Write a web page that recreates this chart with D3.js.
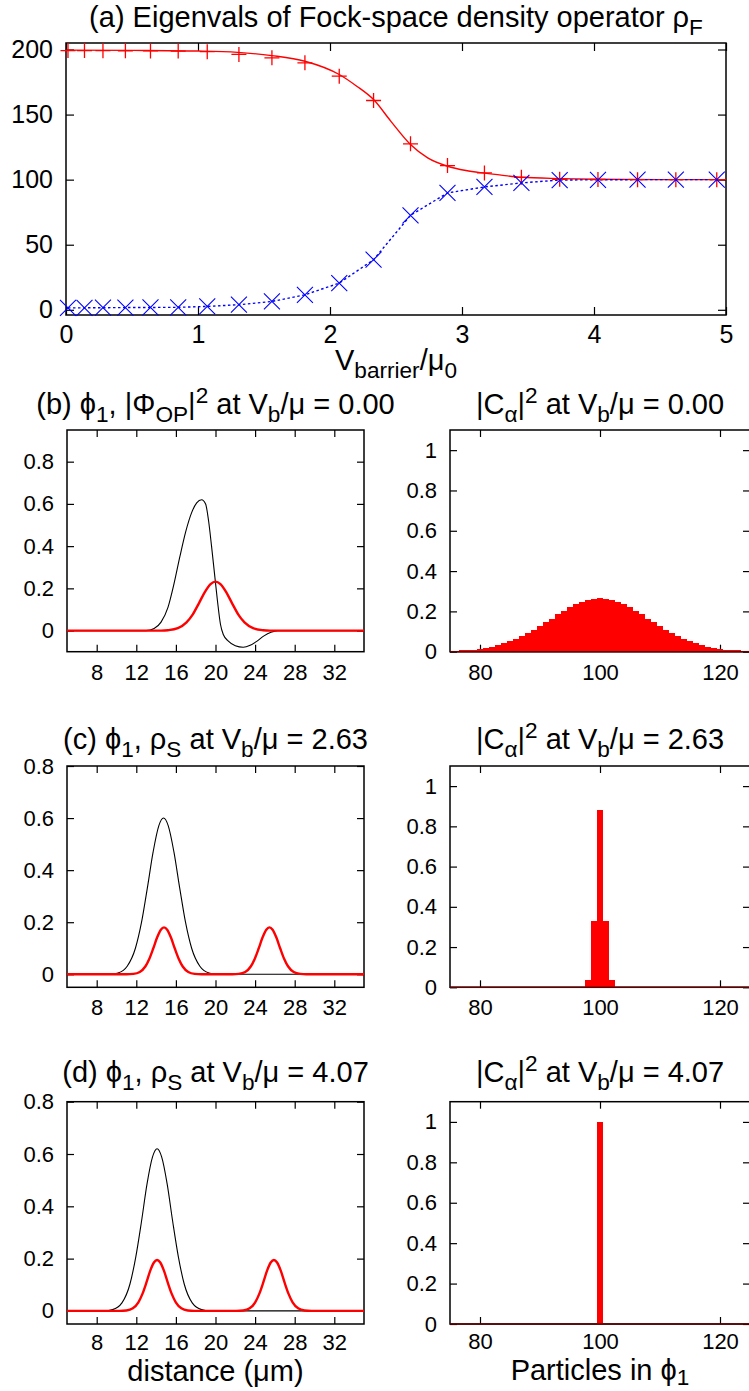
<!DOCTYPE html>
<html><head><meta charset="utf-8">
<script src="https://cdn.jsdelivr.net/npm/d3@7"></script>
<style>
body{margin:0;background:#fff;}
svg{display:block;}
text{font-family:"Liberation Sans","DejaVu Sans",Arial,sans-serif;fill:#000;}
</style>
</head><body>
<svg id="chart" width="749" height="1391"></svg>
<script>
// ---------- Panel (a) data ----------
const vBarrier = [0.015, 0.14, 0.28, 0.45, 0.64, 0.85, 1.07, 1.31, 1.56, 1.81, 2.07, 2.33, 2.61, 2.89, 3.17, 3.45, 3.74, 4.03, 4.33, 4.62, 4.93];
const eigLarge = [199.2, 199.2, 199.1, 199.0, 198.9, 198.8, 198.3, 196.2, 193.6, 189.8, 179.5, 160.8, 127.5, 110.8, 105.2, 101.8, 100.3, 100.1, 100, 100, 100];
const eigSmall = [1.5, 1.5, 1.6, 1.7, 1.8, 1.9, 2.6, 3.9, 6.4, 11.5, 20.5, 38.5, 72.6, 89.8, 94.4, 97.5, 99.7, 99.9, 100, 100, 100];
const fitV   = [0, 0.5, 1.0, 1.3, 1.56, 1.81, 2.07, 2.2, 2.33, 2.46, 2.61, 2.74, 2.89, 3.03, 3.17, 3.31, 3.45, 3.74, 4.0, 4.5, 5.0];
const fitEig = [199.5, 199.3, 198.8, 197.8, 195.3, 191, 180.8, 172, 161.5, 145, 127, 116.7, 110.3, 107, 105, 103.3, 101.8, 100.8, 100.3, 100, 100];
const topXTicks = [0, 1, 2, 3, 4, 5];
const topYTicks = [0, 50, 100, 150, 200];

// ---------- Left panels (distance) ----------
const distTicks = [8, 12, 16, 20, 24, 28, 32];
const densTicks = [0, 0.2, 0.4, 0.6, 0.8];
const phiB = [[5,0],[13.0,0],[13.8,0.01],[14.5,0.04],[15.2,0.11],[15.8,0.22],[16.4,0.35],[17.0,0.47],[17.6,0.56],[18.1,0.605],[18.6,0.62],[19.0,0.6],[19.3,0.52],[19.6,0.4],[19.9,0.27],[20.2,0.14],[20.5,0.03],[20.8,-0.02],[21.3,-0.05],[22.0,-0.072],[22.8,-0.079],[23.5,-0.07],[24.2,-0.05],[24.9,-0.025],[25.6,-0.008],[26.3,0],[35,0]];
const rhoB = [[5,0],[14.5,0],[15.2,0.0019],[16.2,0.0116],[17.07,0.039],[17.71,0.077],[18.31,0.128],[18.92,0.182],[19.5,0.22],[20,0.232],[20.5,0.22],[21.08,0.182],[21.69,0.128],[22.29,0.077],[22.93,0.039],[23.8,0.0116],[24.8,0.0019],[25.5,0],[35,0]];
const phiC = [[5,0],[9.4,0],[10.15,0.005],[11.08,0.031],[11.91,0.1],[12.53,0.2],[13.11,0.33],[13.7,0.47],[14.27,0.57],[14.75,0.6],[15.23,0.57],[15.8,0.47],[16.39,0.33],[16.97,0.2],[17.59,0.1],[18.42,0.031],[19.35,0.005],[20.1,0],[35,0]];
const rhoC = [[5,0],[11.0,0],[11.7,0.0015],[12.35,0.009],[12.91,0.03],[13.32,0.06],[13.71,0.099],[14.1,0.141],[14.48,0.171],[14.8,0.18],[15.12,0.171],[15.5,0.141],[15.89,0.099],[16.28,0.06],[16.69,0.03],[17.25,0.009],[17.9,0.0015],[18.6,0],[21.7,0],[22.35,0.0015],[23.0,0.009],[23.56,0.03],[23.97,0.06],[24.36,0.099],[24.75,0.141],[25.13,0.171],[25.45,0.18],[25.77,0.171],[26.15,0.141],[26.54,0.099],[26.93,0.06],[27.34,0.03],[27.9,0.009],[28.55,0.0015],[29.2,0],[35,0]];
const phiD = [[5,0],[8.8,0],[9.6,0.005],[10.55,0.031],[11.36,0.103],[11.95,0.207],[12.52,0.341],[13.08,0.485],[13.64,0.589],[14.1,0.62],[14.56,0.589],[15.12,0.485],[15.68,0.341],[16.25,0.207],[16.84,0.103],[17.65,0.031],[18.6,0.005],[19.4,0],[35,0]];
const rhoD = [[5,0],[10.3,0],[11.0,0.0016],[11.65,0.0098],[12.21,0.0326],[12.62,0.065],[13.01,0.107],[13.4,0.153],[13.78,0.185],[14.1,0.195],[14.42,0.185],[14.8,0.153],[15.19,0.107],[15.58,0.065],[15.99,0.0326],[16.55,0.0098],[17.2,0.0016],[17.9,0],[22.1,0],[22.8,0.0016],[23.45,0.0098],[24.01,0.0326],[24.42,0.065],[24.81,0.107],[25.2,0.153],[25.58,0.185],[25.9,0.195],[26.22,0.185],[26.6,0.153],[26.99,0.107],[27.38,0.065],[27.79,0.0326],[28.35,0.0098],[29.0,0.0016],[29.7,0],[35,0]];

// ---------- Right panels (particles) ----------
const partTicks = [80, 100, 120];
const probTicks = [0, 0.2, 0.4, 0.6, 0.8, 1];
const histBN = [75,76,77,78,79,80,81,82,83,84,85,86,87,88,89,90,91,92,93,94,95,96,97,98,99,100,101,102,103,104,105,106,107,108,109,110,111,112,113,114,115,116,117,118,119,120,121,122,123,124,125];
const histBV = [0.003,0.004,0.006,0.008,0.010,0.014,0.019,0.025,0.032,0.041,0.051,0.063,0.076,0.092,0.108,0.127,0.146,0.164,0.185,0.203,0.220,0.236,0.248,0.257,0.262,0.264,0.262,0.257,0.248,0.236,0.220,0.203,0.185,0.164,0.146,0.127,0.108,0.092,0.076,0.063,0.051,0.041,0.032,0.025,0.019,0.014,0.010,0.008,0.006,0.004,0.003];
const histCN = [98, 99, 100, 101, 102];
const histCV = [0.035, 0.33, 0.88, 0.33, 0.035];
const histDN = [100];
const histDV = [1.0];

// ---------- drawing ----------
const svg = d3.select("#chart");
const FONT = '"Liberation Sans","DejaVu Sans",Arial,sans-serif';
const TITLE = 29;
let clipCount = 0;

function richText(x, y, parts, size, subShift) {
  const t = svg.append("text").attr("x", x).attr("y", y)
    .attr("text-anchor", "middle").attr("font-size", size).attr("font-family", FONT);
  let cur = 0;
  parts.forEach(p => {
    const s = p[0], mode = p[1] || "n";
    let target = 0, fs = size;
    if (mode === "sub") { target = subShift != null ? subShift : size * 0.27; fs = size * 0.78; }
    if (mode === "sup") { target = -size * 0.38; fs = size * 0.78; }
    t.append("tspan").attr("dy", target - cur).attr("font-size", fs).text(s);
    cur = target;
  });
  return t;
}

function panel(o) {
  const x = d3.scaleLinear().domain(o.xd).range([o.x0, o.x1]);
  const y = d3.scaleLinear().domain(o.yd).range([o.y1, o.y0]);
  const g = svg.append("g");
  const tl = o.tl;
  const fmt = d => String(d);
  const ax = [
    g.append("g").attr("transform", `translate(0,${o.y1})`)
      .call(d3.axisBottom(x).tickValues(o.xt).tickSize(-tl).tickPadding(o.xpad || 12.5).tickFormat(fmt)),
    g.append("g").attr("transform", `translate(0,${o.y0})`)
      .call(d3.axisTop(x).tickValues(o.xt).tickSize(-tl).tickFormat("")),
    g.append("g").attr("transform", `translate(${o.x0},0)`)
      .call(d3.axisLeft(y).tickValues(o.yt).tickSize(-tl).tickPadding(13).tickFormat(fmt)),
    g.append("g").attr("transform", `translate(${o.x1},0)`)
      .call(d3.axisRight(y).tickValues(o.yt).tickSize(-tl).tickFormat(""))
  ];
  ax.forEach(a => {
    a.select(".domain").remove();
    a.selectAll(".tick line").attr("stroke", "#000").attr("stroke-width", 1.2);
    a.selectAll("text").attr("font-size", o.fs || 22).attr("font-family", FONT).attr("fill", "#000");
    a.attr("font-family", null).attr("font-size", null);
  });
  g.append("rect").attr("x", o.x0).attr("y", o.y0).attr("width", o.x1 - o.x0).attr("height", o.y1 - o.y0)
    .attr("fill", "none").attr("stroke", "#000").attr("stroke-width", 1.5);
  const id = "clip" + (clipCount++);
  svg.append("clipPath").attr("id", id).append("rect")
    .attr("x", o.x0).attr("y", o.y0).attr("width", o.x1 - o.x0).attr("height", o.y1 - o.y0);
  const plot = svg.append("g").attr("clip-path", `url(#${id})`);
  return {x, y, g, plot};
}

// ===== Panel (a) =====
const pa = panel({x0: 66, x1: 726, y0: 43, y1: 315, xd: [0, 5], yd: [-4, 205], xt: topXTicks, yt: topYTicks, tl: 8, fs: 25, xpad: 10});
const lineA = d3.line().x(d => pa.x(d[0])).y(d => pa.y(d[1])).curve(d3.curveMonotoneX);
pa.plot.append("path").datum(fitV.map((v, i) => [v, fitEig[i]]))
  .attr("d", lineA).attr("fill", "none").attr("stroke", "#ff0000").attr("stroke-width", 1.4);
const plusG = svg.append("g").attr("stroke", "#ff0000").attr("stroke-width", 1.3);
vBarrier.forEach((v, i) => {
  const cx = pa.x(v), cy = pa.y(eigLarge[i]), s = 7.5;
  plusG.append("path").attr("d", `M${cx - s},${cy}H${cx + s}M${cx},${cy - s}V${cy + s}`);
});
const lineLin = d3.line().x(d => pa.x(d[0])).y(d => pa.y(d[1]));
pa.plot.append("path").datum(vBarrier.map((v, i) => [v, eigSmall[i]]))
  .attr("d", lineLin).attr("fill", "none").attr("stroke", "#0000ff").attr("stroke-width", 1.4)
  .attr("stroke-dasharray", "2.5,2.5");
const crossG = svg.append("g").attr("stroke", "#0000ff").attr("stroke-width", 1.1);
vBarrier.forEach((v, i) => {
  const cx = pa.x(v), cy = pa.y(eigSmall[i]), s = 8;
  crossG.append("path").attr("d", `M${cx - s},${cy - s}L${cx + s},${cy + s}M${cx - s},${cy + s}L${cx + s},${cy - s}`);
});
richText(396, 27, [["(a) Eigenvals of Fock-space density operator ρ"], ["F", "sub"]], TITLE);
richText(396, 370, [["V"], ["barrier", "sub"], ["/μ"], ["0", "sub"]], TITLE);

// ===== Left panels =====
function leftPanel(y0, y1, yd, phi, rho, xpad) {
  const p = panel({x0: 67, x1: 364, y0, y1, xd: [5, 35], yd, xt: distTicks, yt: densTicks, tl: 7, xpad});
  const ln = d3.line().x(d => p.x(d[0])).y(d => p.y(d[1])).curve(d3.curveMonotoneX);
  p.plot.append("path").datum(phi).attr("d", ln).attr("fill", "none").attr("stroke", "#000").attr("stroke-width", 1.1);
  p.plot.append("path").datum(rho).attr("d", ln).attr("fill", "none").attr("stroke", "#ff0000").attr("stroke-width", 2.4);
  return p;
}
leftPanel(430, 651.7, [-0.1, 0.95], phiB, rhoB);
leftPanel(766, 987.3, [-0.05, 0.8], phiC, rhoC);
leftPanel(1101.7, 1324, [-0.05, 0.8], phiD, rhoD, 10);

richText(215.5, 414, [["(b) ϕ"], ["1", "sub"], [", |Φ"], ["OP", "sub"], ["|"], ["2", "sup"], [" at V"], ["b", "sub"], ["/μ = 0.00"]], TITLE);
richText(215.5, 749, [["(c) ϕ"], ["1", "sub"], [", ρ"], ["S", "sub"], [" at V"], ["b", "sub"], ["/μ = 2.63"]], TITLE);
richText(215.5, 1082, [["(d) ϕ"], ["1", "sub"], [", ρ"], ["S", "sub"], [" at V"], ["b", "sub"], ["/μ = 4.07"]], TITLE);
richText(215.5, 1381, [["distance (μm)"]], TITLE);

// ===== Right panels =====
function rightPanel(y0, y1, ns, vs, xpad) {
  const p = panel({x0: 450, x1: 750, y0, y1, xd: [75, 125], yd: [0, 1.1], xt: partTicks, yt: probTicks, tl: 7, xpad});
  p.plot.selectAll("rect.bar").data(ns.map((n, i) => [n, vs[i]])).enter().append("rect")
    .attr("x", d => p.x(d[0] - 0.5)).attr("width", d => p.x(d[0] + 0.5) - p.x(d[0] - 0.5))
    .attr("y", d => p.y(d[1])).attr("height", d => p.y(0) - p.y(d[1]))
    .attr("fill", "#ff0000").attr("shape-rendering", "crispEdges");
  svg.append("line").attr("x1", 450).attr("x2", 750).attr("y1", p.y(0)).attr("y2", p.y(0))
    .attr("stroke", "#600000").attr("stroke-width", 1.6);
  return p;
}
rightPanel(430, 651.7, histBN, histBV);
rightPanel(766, 987.3, histCN, histCV);
rightPanel(1101.7, 1324, histDN, histDV, 9);

richText(600, 414, [["|C"], ["α", "sub"], ["|"], ["2", "sup"], [" at V"], ["b", "sub"], ["/μ = 0.00"]], TITLE);
richText(600, 749, [["|C"], ["α", "sub"], ["|"], ["2", "sup"], [" at V"], ["b", "sub"], ["/μ = 2.63"]], TITLE);
richText(600, 1082, [["|C"], ["α", "sub"], ["|"], ["2", "sup"], [" at V"], ["b", "sub"], ["/μ = 4.07"]], TITLE);
richText(600, 1379.5, [["Particles in ϕ"], ["1", "sub"]], TITLE, 5.5);
</script>
</body></html>
